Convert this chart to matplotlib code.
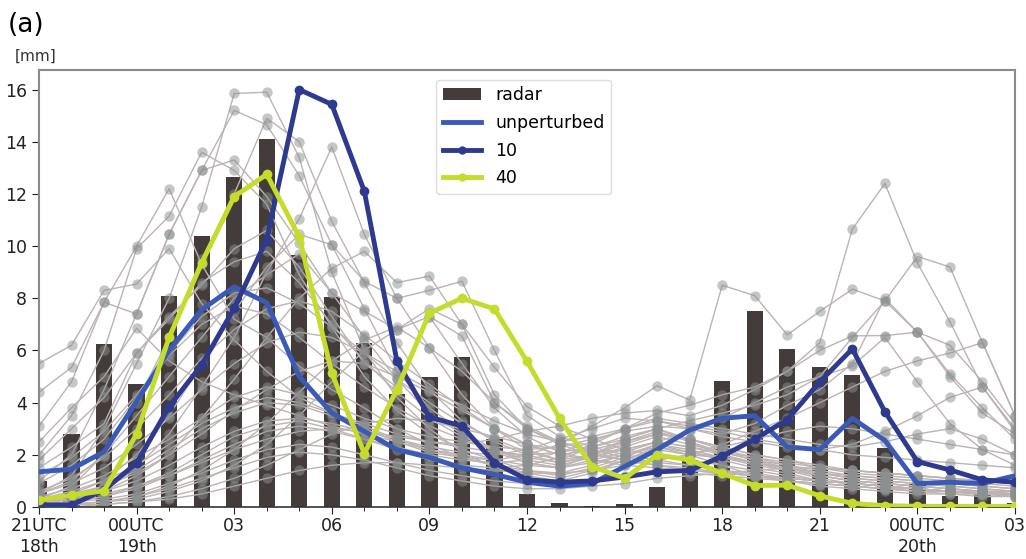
import numpy as np
import matplotlib.pyplot as plt
from matplotlib.patches import Patch
from matplotlib.lines import Line2D

# hourly accumulated precipitation, 21UTC 18th -> 03UTC 20th
hours = np.arange(31)

radar = [1.0, 2.8, 6.25, 4.7, 8.1, 10.4, 12.65, 14.1, 9.65, 8.05,
         6.3, 4.35, 5.0, 5.75, 2.6, 0.5, 0.15, 0.05, 0.1, 0.75,
         1.8, 4.83, 7.5, 6.05, 5.35, 5.07, 2.25, 0.9, 0.43, 0.5, 0.17]

unperturbed = [1.35, 1.45, 2.12, 4.05, 6.0, 7.56, 8.44, 7.83, 5.0, 3.6,
               2.9, 2.2, 1.9, 1.5, 1.25, 0.95, 0.8, 0.9, 1.55, 2.2,
               2.95, 3.4, 3.5, 2.3, 2.2, 3.4, 2.55, 0.9, 0.95, 0.9, 1.2]

member10 = [0.08, 0.08, 0.65, 1.68, 3.85, 5.45, 7.62, 10.25, 16.0, 15.43,
            12.1, 5.6, 3.45, 3.1, 1.7, 1.05, 0.95, 1.0, 1.15, 1.35,
            1.4, 1.95, 2.6, 3.35, 4.8, 6.06, 3.65, 1.74, 1.42, 1.04, 0.95]

member40 = [0.27, 0.45, 0.62, 2.8, 6.5, 9.35, 11.9, 12.75, 10.35, 5.13,
            2.05, 4.5, 7.43, 8.0, 7.59, 5.58, 3.4, 1.55, 1.1, 2.0,
            1.8, 1.29, 0.82, 0.84, 0.43, 0.14, 0.05, 0.03, 0.02, 0.02, 0.02]

ensemble = [
    [0.5, 1.2, 3.0, 5.5, 8.0, 11.5, 15.85, 15.9, 13.4, 9.0, 6.0, 4.2, 3.0, 2.1, 1.5, 1.2, 1.0, 1.3, 1.8, 2.3, 2.0, 1.6, 1.2, 1.0, 0.8, 0.7, 0.6, 0.5, 0.5, 0.4, 0.4],
    [1.0, 2.0, 4.5, 7.4, 10.45, 12.9, 15.2, 14.65, 12.7, 10.05, 7.6, 5.2, 3.8, 2.9, 2.2, 1.7, 1.5, 2.0, 2.6, 3.0, 2.5, 2.0, 1.7, 1.4, 1.1, 0.9, 0.8, 0.7, 0.6, 0.5, 0.5],
    [2.0, 3.5, 6.0, 9.9, 11.15, 13.6, 12.9, 11.6, 8.9, 6.9, 5.0, 3.7, 2.8, 2.2, 1.8, 1.4, 1.2, 1.5, 1.9, 2.4, 2.1, 1.8, 1.5, 1.3, 1.0, 0.9, 0.8, 0.7, 0.6, 0.6, 0.5],
    [3.1, 4.8, 7.85, 10.0, 12.2, 9.3, 7.2, 6.5, 5.4, 4.5, 3.8, 3.0, 2.4, 1.9, 1.6, 1.3, 1.1, 1.4, 1.8, 2.2, 2.0, 1.9, 1.7, 1.5, 1.2, 1.0, 0.9, 0.8, 0.7, 0.6, 0.6],
    [0.2, 0.4, 0.8, 1.5, 2.8, 4.6, 6.5, 9.0, 11.05, 13.8, 10.45, 8.0, 6.1, 4.3, 3.0, 2.2, 1.8, 2.3, 2.7, 3.0, 2.6, 2.2, 1.9, 1.6, 1.3, 1.1, 1.0, 0.9, 0.8, 0.7, 0.6],
    [0.3, 0.8, 2.0, 4.0, 6.5, 9.5, 12.0, 14.9, 14.0, 10.95, 8.6, 6.3, 4.5, 3.3, 2.5, 2.0, 1.7, 2.0, 2.5, 2.9, 2.5, 2.1, 1.8, 1.5, 1.2, 1.0, 0.9, 0.8, 0.7, 0.6, 0.5],
    [5.5, 6.2, 8.3, 8.55, 9.9, 7.8, 6.4, 5.2, 4.2, 3.6, 3.1, 2.6, 2.2, 1.9, 1.6, 1.4, 1.3, 1.6, 2.0, 2.4, 2.2, 1.9, 1.6, 1.4, 1.2, 1.0, 0.9, 0.8, 0.7, 0.6, 0.6],
    [4.4, 5.35, 7.85, 7.4, 10.45, 12.9, 13.3, 11.9, 10.1, 8.2, 6.5, 4.9, 3.6, 2.8, 2.1, 1.7, 1.5, 1.8, 2.1, 2.5, 2.3, 2.0, 1.7, 1.5, 1.3, 1.1, 1.0, 0.9, 0.8, 0.7, 0.6],
    [0.1, 0.3, 0.6, 1.2, 2.0, 3.4, 4.9, 6.5, 8.0, 9.15, 9.8, 8.6, 8.85, 7.0, 5.35, 3.85, 3.1, 2.6, 2.2, 2.0, 1.8, 1.6, 1.4, 1.2, 1.0, 0.9, 0.8, 0.7, 0.6, 0.5, 0.5],
    [0.2, 0.5, 1.0, 2.0, 3.5, 5.5, 7.5, 9.2, 10.45, 10.05, 8.65, 8.0, 8.3, 8.65, 6.0, 3.5, 2.7, 2.3, 2.0, 1.8, 1.6, 1.4, 1.3, 1.1, 1.0, 0.9, 0.8, 0.7, 0.6, 0.5, 0.5],
    [0.5, 1.0, 2.0, 3.5, 5.0, 6.5, 8.0, 8.9, 9.7, 8.2, 7.5, 6.8, 7.6, 7.0, 4.3, 3.0, 2.4, 2.0, 1.8, 1.6, 1.5, 1.3, 1.2, 1.0, 0.9, 0.8, 0.7, 0.6, 0.6, 0.5, 0.4],
    [1.5, 2.3, 3.2, 5.9, 7.3, 8.5, 9.9, 10.6, 9.2, 7.3, 5.5, 4.6, 7.3, 6.55, 4.0, 3.0, 2.5, 2.2, 1.9, 1.7, 1.6, 1.4, 1.2, 1.1, 1.0, 0.9, 0.8, 0.7, 0.6, 0.5, 0.5],
    [0.1, 0.2, 0.4, 0.8, 1.3, 2.0, 2.7, 3.1, 3.3, 3.0, 2.6, 2.2, 1.8, 1.6, 1.5, 1.6, 1.9, 2.4, 3.0, 3.6, 3.9, 4.3, 4.6, 5.2, 6.3, 10.65, 12.4, 9.35, 7.1, 4.6, 2.9],
    [0.2, 0.4, 0.8, 1.4, 2.2, 3.0, 3.6, 4.0, 3.9, 3.5, 3.0, 2.5, 2.1, 1.9, 1.8, 2.0, 2.4, 3.1, 3.8, 4.65, 4.1, 8.5, 8.1, 6.6, 7.5, 8.35, 7.9, 9.6, 9.2, 6.3, 3.5],
    [0.3, 0.6, 1.0, 1.6, 2.4, 3.2, 3.8, 4.2, 4.0, 3.6, 3.2, 2.8, 2.5, 2.4, 2.6, 2.9, 3.1, 3.4, 3.6, 3.7, 3.5, 3.9, 4.5, 5.2, 6.0, 6.56, 6.57, 6.7, 6.2, 4.8, 3.2],
    [0.4, 0.7, 1.2, 1.9, 2.6, 3.4, 4.2, 4.6, 4.3, 3.9, 3.4, 3.0, 2.7, 2.5, 2.3, 2.2, 2.3, 2.6, 2.9, 3.1, 3.0, 2.8, 3.2, 3.9, 4.5, 5.5, 8.0, 6.7, 5.0, 3.6, 2.8],
    [0.2, 0.3, 0.6, 1.0, 1.6, 2.3, 2.9, 3.3, 3.4, 3.2, 2.9, 2.6, 2.3, 2.1, 2.0, 2.2, 2.6, 3.0, 3.4, 3.3, 3.0, 2.7, 2.5, 2.3, 2.2, 2.4, 2.9, 3.5, 4.2, 4.6, 3.0],
    [0.1, 0.2, 0.4, 0.7, 1.2, 1.8, 2.4, 2.9, 3.1, 2.9, 2.6, 2.3, 2.0, 1.8, 1.7, 1.8, 2.1, 2.5, 3.0, 3.4, 3.2, 3.0, 2.8, 2.6, 2.4, 2.3, 2.5, 2.8, 3.0, 2.6, 2.0],
    [2.5, 3.8, 5.0, 6.85, 5.6, 4.8, 4.3, 3.9, 3.5, 3.1, 2.8, 2.5, 2.2, 2.0, 1.8, 1.6, 1.5, 1.7, 2.0, 2.3, 2.1, 1.9, 1.7, 1.5, 1.3, 1.2, 1.1, 1.0, 0.9, 0.8, 0.7],
    [1.8, 3.0, 4.2, 5.9, 7.2, 8.6, 9.4, 9.8, 8.6, 7.0, 5.6, 4.4, 3.4, 2.7, 2.2, 1.8, 1.6, 1.9, 2.3, 2.7, 2.4, 2.1, 1.8, 1.6, 1.4, 1.2, 1.1, 1.0, 0.9, 0.8, 0.7],
    [0.6, 1.1, 1.9, 3.0, 4.3, 5.7, 6.8, 7.6, 7.9, 7.5, 6.6, 5.6, 4.7, 3.8, 3.0, 2.4, 2.0, 2.2, 2.5, 2.8, 2.6, 2.3, 2.0, 1.8, 1.5, 1.3, 1.2, 1.1, 1.0, 0.9, 0.8],
    [0.9, 1.6, 2.6, 4.2, 5.8, 7.0, 7.7, 7.4, 6.5, 5.5, 4.6, 3.8, 3.1, 2.6, 2.2, 1.9, 1.7, 1.9, 2.2, 2.5, 2.3, 2.1, 1.9, 1.7, 1.5, 1.4, 1.3, 1.2, 1.1, 1.0, 0.9],
    [0.1, 0.1, 0.2, 0.4, 0.8, 1.4, 2.2, 3.2, 4.4, 5.6, 6.4, 6.9, 6.1, 5.2, 4.0, 3.1, 2.5, 2.1, 1.8, 1.6, 1.4, 1.3, 1.2, 1.0, 0.9, 0.8, 0.7, 0.6, 0.5, 0.5, 0.4],
    [0.0, 0.1, 0.2, 0.3, 0.6, 1.0, 1.6, 2.4, 3.5, 4.8, 6.0, 6.8, 7.3, 5.5, 3.8, 2.7, 2.1, 1.8, 1.6, 1.5, 1.4, 1.3, 1.2, 1.1, 1.0, 0.9, 0.8, 0.7, 0.6, 0.5, 0.5],
    [0.3, 0.5, 0.8, 1.3, 2.0, 2.8, 3.7, 4.5, 5.2, 5.6, 5.5, 5.0, 4.4, 3.7, 3.0, 2.4, 2.0, 1.8, 1.7, 1.8, 2.0, 2.3, 2.6, 2.9, 3.1, 3.0, 2.8, 2.6, 2.4, 2.2, 2.0],
    [0.0, 0.0, 0.1, 0.2, 0.4, 0.7, 1.1, 1.6, 2.2, 2.8, 3.2, 3.4, 3.3, 3.0, 2.7, 2.4, 2.2, 2.1, 2.2, 2.5, 2.9, 3.4, 4.0, 4.6, 5.0, 5.4, 6.5, 4.8, 3.2, 2.2, 1.6],
    [0.2, 0.3, 0.5, 0.8, 1.2, 1.7, 2.2, 2.6, 2.9, 3.0, 2.9, 2.7, 2.5, 2.3, 2.1, 2.0, 2.1, 2.3, 2.6, 3.0, 3.3, 3.6, 3.9, 4.3, 5.0, 6.5, 7.9, 6.7, 5.1, 3.8, 2.6],
    [0.5, 0.9, 1.5, 2.4, 3.4, 4.5, 5.5, 6.3, 6.7, 6.5, 5.9, 5.2, 4.5, 3.9, 3.3, 2.8, 2.5, 2.7, 3.0, 3.3, 3.1, 2.9, 2.6, 2.4, 2.2, 2.0, 1.9, 1.8, 1.7, 1.6, 1.5],
    [0.0, 0.1, 0.1, 0.2, 0.3, 0.5, 0.8, 1.1, 1.4, 1.6, 1.7, 1.7, 1.6, 1.5, 1.4, 1.3, 1.3, 1.4, 1.6, 1.8, 2.0, 2.4, 2.9, 3.4, 4.0, 4.6, 5.2, 5.6, 5.9, 6.3, 3.5],
    [1.2, 1.9, 2.9, 4.3, 5.9, 7.3, 8.2, 8.4, 7.8, 6.9, 5.9, 4.9, 4.0, 3.2, 2.6, 2.1, 1.8, 2.0, 2.4, 2.8, 2.6, 2.3, 2.0, 1.8, 1.6, 1.4, 1.3, 1.2, 1.1, 1.0, 0.9],
    [0.1, 0.2, 0.3, 0.5, 0.9, 1.3, 1.8, 2.2, 2.4, 2.3, 2.0, 1.7, 1.4, 1.2, 1.0, 0.9, 0.9, 1.0, 1.2, 1.4, 1.3, 1.2, 1.1, 1.0, 0.9, 0.8, 0.7, 0.7, 0.6, 0.6, 0.5],
    [0.0, 0.1, 0.2, 0.4, 0.7, 1.1, 1.5, 1.9, 2.1, 2.0, 1.8, 1.5, 1.2, 1.0, 0.8, 0.7, 0.7, 0.8, 0.9, 1.1, 1.2, 1.3, 1.4, 1.5, 1.5, 1.4, 1.3, 1.2, 1.1, 1.0, 0.9],
]

tick_hours = [0, 3, 6, 9, 12, 15, 18, 21, 24, 27, 30]
tick_labels = ["21UTC\n18th", "00UTC\n19th", "03", "06", "09", "12",
               "15", "18", "21", "00UTC\n20th", "03"]

c_radar = "#443c3a"
c_unpert = "#3a5ab8"
c_10 = "#2d3a8e"
c_40 = "#c6dc2c"

fig = plt.figure(figsize=(10.26, 5.59), dpi=100)
ax = fig.add_axes([0.038, 0.093, 0.9513, 0.7818])

ax.bar(hours, radar, width=0.5, color=c_radar, zorder=1)

# ensemble members: thin lines, translucent dots on top
for m in ensemble:
    ax.plot(hours, m, color="#bdb3b3", lw=1.0, zorder=2)
for m in ensemble:
    ax.plot(hours, m, ls="none", marker="o", ms=7.5, mfc="#8c9090",
            mec="none", alpha=0.5, zorder=2)

ax.plot(hours, unperturbed, color=c_unpert, lw=3.5, zorder=3)
ax.plot(hours, member10, color=c_10, lw=3.5, marker="o", ms=6, zorder=4)
ax.plot(hours, member40, color=c_40, lw=3.5, marker="o", ms=6, zorder=5)

ax.set_xlim(0, 30)
ax.set_ylim(0, 16.75)
ax.set_xticks(tick_hours)
ax.set_xticklabels(tick_labels)
ax.set_xticks(hours, minor=True)
ax.set_yticks(np.arange(0, 17, 2))
ax.tick_params(axis="both", labelsize=12.5, colors="#222222", length=5)
ax.tick_params(axis="x", which="minor", length=3)
ax.tick_params(axis="x", pad=2)

for side in ["top", "right", "left"]:
    ax.spines[side].set_color("#8a8a8a")
    ax.spines[side].set_linewidth(1.5)
ax.spines["bottom"].set_color("#333333")
ax.spines["bottom"].set_linewidth(1.2)

handles = [
    Patch(facecolor=c_radar, label="radar"),
    Line2D([], [], color=c_unpert, lw=3.5, label="unperturbed"),
    Line2D([], [], color=c_10, lw=3.5, marker="o", ms=5, label="10"),
    Line2D([], [], color=c_40, lw=3.5, marker="o", ms=5, label="40"),
]
leg = ax.legend(handles=handles, loc="upper left", bbox_to_anchor=(0.398, 0.998),
                fontsize=12.5, handlelength=2.2, labelspacing=0.55,
                framealpha=1, edgecolor="#dddddd")

fig.text(0.008, 0.955, "(a)", fontsize=19, va="center")
fig.text(0.014, 0.9, "[mm]", fontsize=11, va="center", color="#333333")

fig.savefig("out.png", dpi=100)
